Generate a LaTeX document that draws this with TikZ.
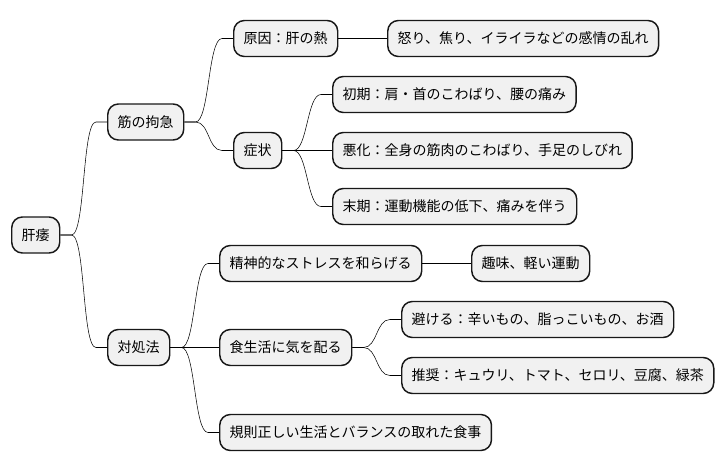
\documentclass[tikz,border=0pt]{standalone}
\usepackage{fontspec}
\setmainfont{Noto Sans CJK JP}
\usepackage{tikz}
\usetikzlibrary{calc}
\definecolor{nodefill}{HTML}{F1F1F1}
\definecolor{nodeline}{HTML}{181818}
\tikzset{
  topic/.style={draw=nodeline, fill=nodefill, line width=1.1pt, rounded corners=8pt, anchor=west, minimum height=27pt, inner xsep=7.5pt, inner ysep=0pt, font=\fontsize{10.5}{12}\selectfont},
  branch/.style={draw=nodeline, line width=0.75pt, to path={-- ++(11,0) .. controls +(14,0) and +(-14,0) .. ($(\tikztotarget)+(-11,0)$) -- (\tikztotarget)}},
}

\begin{document}
\begin{tikzpicture}[x=0.75pt, y=-0.75pt]
\useasboundingbox (0,0) rectangle (726,471);
\node[topic] (root) at (11,235) {肝痿};
\node[topic] (kin) at (107,122) {筋の拘急};
\node[topic] (gen) at (233,38.5) {原因：肝の熱};
\node[topic] (ika) at (387,38.5) {怒り、焦り、イライラなどの感情の乱れ};
\node[topic] (sho) at (233,150.5) {症状};
\foreach \i/\y/\t in {1/94.5/初期：肩・首のこわばり、腰の痛み,2/150.5/悪化：全身の筋肉のこわばり、手足のしびれ,3/206.5/末期：運動機能の低下、痛みを伴う}{\node[topic] (s\i) at (332,\y) {\t};}
\node[topic] (tai) at (107,347.5) {対処法};
\node[topic] (sei) at (219,263.5) {精神的なストレスを和らげる};
\node[topic] (shu) at (471,263.5) {趣味、軽い運動};
\node[topic] (shk) at (219,347.5) {食生活に気を配る};
\node[topic] (sak) at (401,319.5) {避ける：辛いもの、脂っこいもの、お酒};
\node[topic] (sui) at (401,375.5) {推奨：キュウリ、トマト、セロリ、豆腐、緑茶};
\node[topic] (kis) at (219,432.5) {規則正しい生活とバランスの取れた食事};
\foreach \a/\b in {root/kin,root/tai,kin/gen,kin/sho,gen/ika,sho/s1,sho/s2,sho/s3,tai/sei,tai/shk,tai/kis,sei/shu,shk/sak,shk/sui}{\draw (\a.east) to[branch] (\b.west);}
\end{tikzpicture}
\end{document}
